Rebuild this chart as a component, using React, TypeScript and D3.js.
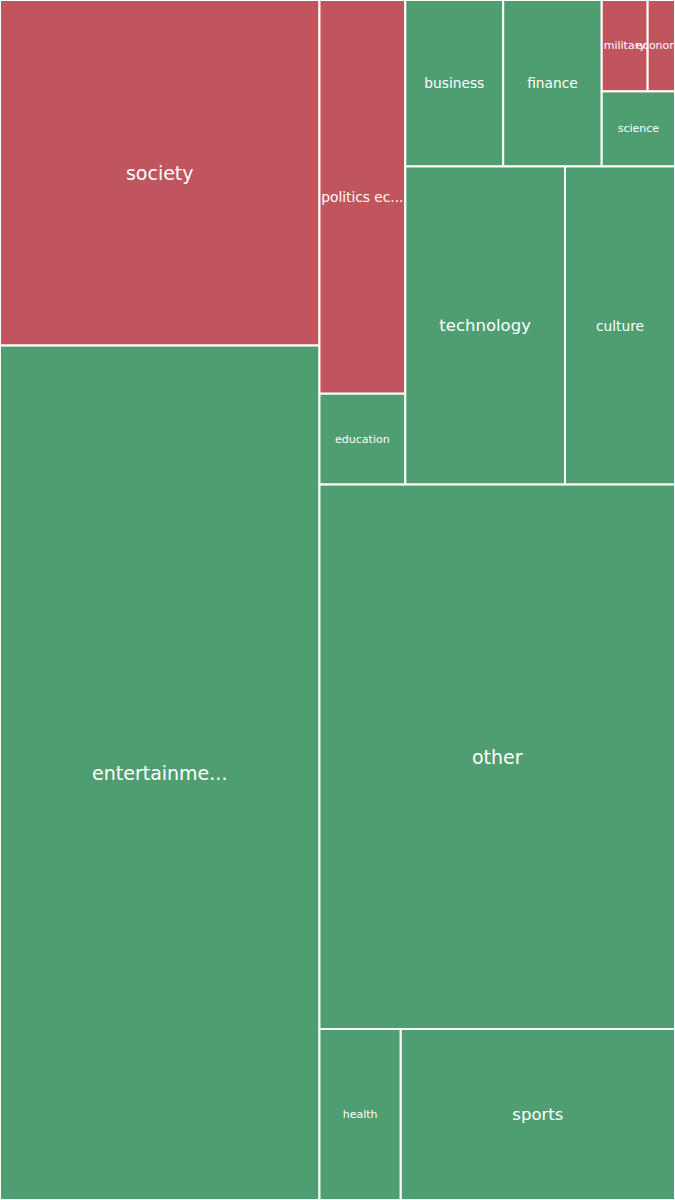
import React from "react";
import * as d3 from "d3";

const WIDTH = 675;
const HEIGHT = 1200;

// Leaf categories, their values and tone (red = negative, green = positive)
const categories = [
  "society",
  "entertainment",
  "politics economy",
  "education",
  "business",
  "finance",
  "military",
  "economy",
  "science",
  "technology",
  "culture",
  "other",
  "health",
  "sports",
];
const values = [1104, 2730, 338, 78, 163, 164, 42, 25, 55, 508, 350, 1936, 139, 469];
const tones = ["neg", "pos", "neg", "pos", "pos", "pos", "neg", "neg", "pos", "pos", "pos", "pos", "pos", "pos"];
const leafGroups = ["gA", "gA", "gPE", "gPE", "gUpper", "gUpper", "gME", "gME", "gMES", "gLower", "gLower", "gB", "gHS", "gHS"];

// Grouping structure of the treemap
const groupIds = ["root", "gA", "gB", "gTop", "gPE", "gRest", "gUpper", "gMES", "gME", "gLower", "gHS"];
const groupParents = ["", "root", "root", "gB", "gTop", "gTop", "gRest", "gUpper", "gMES", "gRest", "gB"];
// order of siblings inside each group
const orderKeys: Record<string, number> = {
  gA: 0, gB: 1,
  gTop: 0, other: 1, gHS: 2,
  gPE: 0, gRest: 1,
  gUpper: 0, gLower: 1,
  business: 0, finance: 1, gMES: 2,
  gME: 0, science: 1,
  military: 0, economy: 1,
  society: 0, entertainment: 1,
  "politics economy": 0, education: 1,
  technology: 0, culture: 1,
  health: 0, sports: 1,
};

const toneColor: Record<string, string> = { neg: "#c0555d", pos: "#4f9e72" };

type Row = { id: string; parent: string; value: number; name?: string; tone?: string };

function buildRows(): Row[] {
  const rows: Row[] = [];
  groupIds.forEach((g, i) => rows.push({ id: g, parent: groupParents[i], value: 0 }));
  categories.forEach((c, i) =>
    rows.push({ id: c, parent: leafGroups[i], value: values[i], name: c, tone: tones[i] })
  );
  return rows;
}

const fontScale = d3.scaleThreshold<number, number>().domain([150, 400, 1000]).range([11, 13.75, 16.5, 19]);

function label(name: string) {
  return name.length > 12 ? name.slice(0, 11) + "..." : name;
}

export default function App() {
  const rows = buildRows();
  const strat = d3
    .stratify<Row>()
    .id((d) => d.id)
    .parentId((d) => (d.parent === "" ? null : d.parent))(rows);
  const root = strat
    .sum((d) => d.value)
    .sort((a, b) => (orderKeys[a.id as string] ?? 0) - (orderKeys[b.id as string] ?? 0));
  d3.treemap<Row>().tile(d3.treemapSliceDice).size([WIDTH, HEIGHT]).round(false)(root);
  const leaves = root.leaves() as d3.HierarchyRectangularNode<Row>[];

  return (
    <svg
      width={WIDTH}
      height={HEIGHT}
      style={{ position: "absolute", left: 0, top: 0, display: "block" }}
      fontFamily="DejaVu Sans, sans-serif"
    >
      {leaves.map((d) => (
        <rect
          key={"r" + d.id}
          x={d.x0}
          y={d.y0}
          width={d.x1 - d.x0}
          height={d.y1 - d.y0}
          fill={toneColor[d.data.tone as string]}
          stroke="#fff"
          strokeWidth={2}
        />
      ))}
      {leaves.map((d) => (
        <text
          key={"t" + d.id}
          x={(d.x0 + d.x1) / 2}
          y={(d.y0 + d.y1) / 2}
          textAnchor="middle"
          dominantBaseline="central"
          fill="#fff"
          fontSize={fontScale(d.value as number)}
        >
          {label(d.data.name as string)}
        </text>
      ))}
    </svg>
  );
}
